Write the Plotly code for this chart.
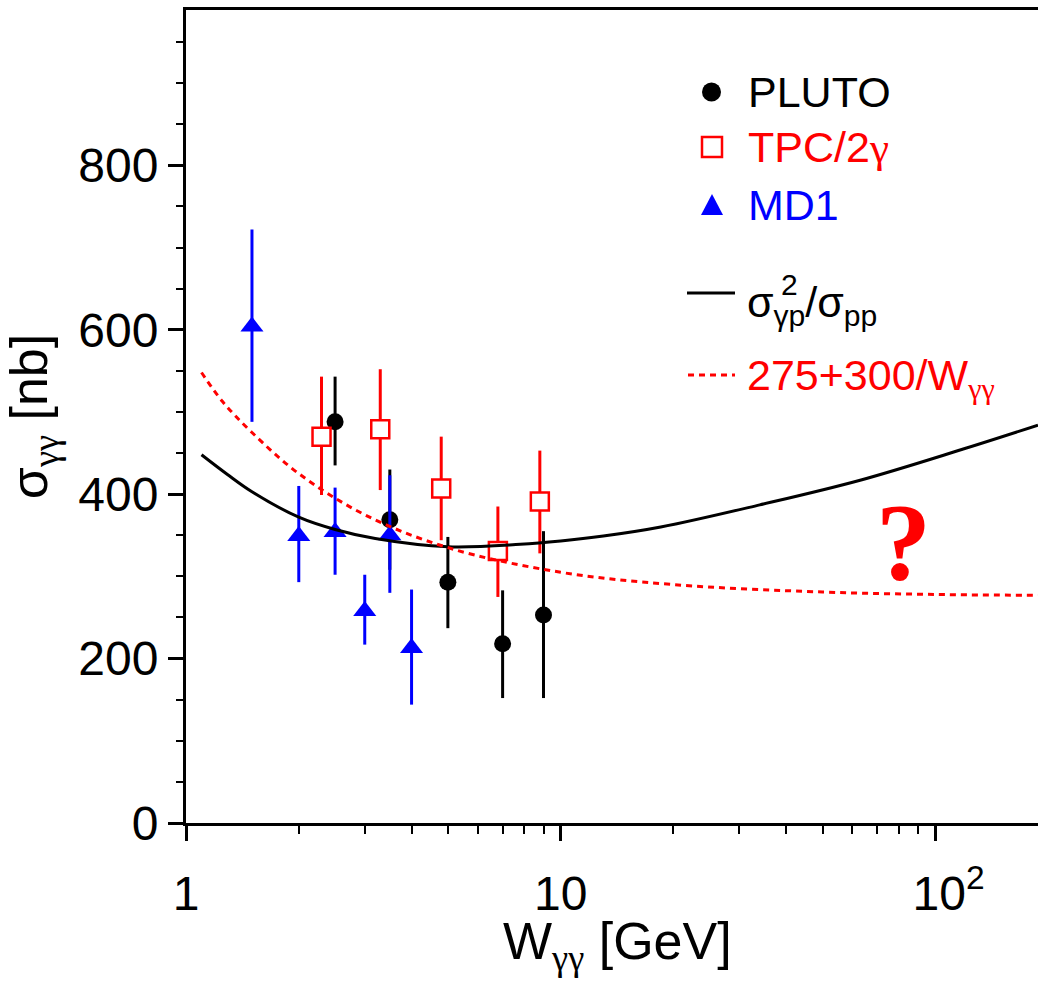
import plotly.graph_objects as go
import math

# ---------------- data ----------------
pluto_w = [2.5, 3.5, 5.0, 7.0, 9.0]
pluto_y = [488, 369, 293, 218, 253]
pluto_hi = [543, 430, 348, 283, 355]
pluto_lo = [435, 308, 237, 152, 152]

tpc_w = [2.3, 3.3, 4.8, 6.8, 8.8]
tpc_y = [470, 479, 407, 331, 391]
tpc_hi = [543, 552, 470, 385, 453]
tpc_lo = [399, 405, 344, 275, 328]

md1_w = [1.5, 2.0, 2.5, 3.0, 3.5, 4.0]
md1_y = [604, 349, 354, 258, 350, 213]
md1_hi = [722, 410, 408, 302, 423, 284]
md1_lo = [488, 293, 302, 217, 280, 144]

model_w = [1.1, 1.29, 1.5, 2.0, 2.5, 3.2, 5.0, 7.8, 10, 13, 18.5, 34, 63, 117, 188]
model_y = [448, 424, 403, 372, 357, 346, 336, 339, 343, 349, 360, 387, 417, 454, 484]

fit_w = [1.1, 1.25, 1.5, 2.0, 3.0, 5.0, 10, 20, 50, 100, 188]
fit_y = [548, 513, 475, 425, 375, 335, 305, 290, 281, 278, 277]

x_tickvals = [1, 10, 100]
x_ticktext = ["1", "10", "\u00a0\u00a010<sup>2</sup>"]
x_minor = [2, 3, 4, 5, 6, 7, 8, 9, 20, 30, 40, 50, 60, 70, 80, 90]

RED = "#ff0000"
BLUE = "#0000ff"
BLACK = "#000000"
FONT = "Liberation Sans, Arial, sans-serif"
SERIF = "Liberation Serif, Times New Roman, serif"

W, H = 1038, 986
ML, MR, MT, MB = 186, 0, 10, 163
PW, PH = W - ML - MR, H - MT - MB


def px(xp):
    return (xp - ML) / PW


def py(yp):
    return (H - MB - yp) / PH


def errs(y, hi, lo):
    return [h - v for v, h in zip(y, hi)], [v - l for v, l in zip(y, lo)]


fig = go.Figure()

p_up, p_dn = errs(pluto_y, pluto_hi, pluto_lo)
fig.add_trace(go.Scatter(
    x=pluto_w, y=pluto_y, mode="markers", name="PLUTO",
    marker=dict(symbol="circle", size=17, color=BLACK),
    error_y=dict(type="data", array=p_up, arrayminus=p_dn, thickness=3,
                 width=0, color=BLACK),
    showlegend=False))

t_up, t_dn = errs(tpc_y, tpc_hi, tpc_lo)
fig.add_trace(go.Scatter(
    x=tpc_w, y=tpc_y, mode="markers", name="TPC/2γ",
    marker=dict(symbol="square", size=18, color="white",
                line=dict(color=RED, width=2.5)),
    error_y=dict(type="data", array=t_up, arrayminus=t_dn, thickness=3,
                 width=0, color=RED),
    showlegend=False))

m_up, m_dn = errs(md1_y, md1_hi, md1_lo)
fig.add_trace(go.Scatter(
    x=md1_w, y=md1_y, mode="markers", name="MD1",
    marker=dict(symbol="triangle-up", size=20, color=BLUE),
    error_y=dict(type="data", array=m_up, arrayminus=m_dn, thickness=3,
                 width=0, color=BLUE),
    showlegend=False))

fig.add_trace(go.Scatter(
    x=model_w, y=model_y, mode="lines", name="σγp²/σpp",
    line=dict(color=BLACK, width=3, shape="spline", smoothing=1.0),
    showlegend=False))

fig.add_trace(go.Scatter(
    x=fit_w, y=fit_y, mode="lines", name="275+300/Wγγ",
    line=dict(color=RED, width=3, shape="spline", dash="6px,5px"),
    showlegend=False))

# ---------------- manual legend ----------------
shapes = []
shapes.append(dict(type="circle", xref="paper", yref="paper",
                   x0=px(702), x1=px(721), y0=py(101.5), y1=py(82.5),
                   fillcolor=BLACK, line=dict(color=BLACK, width=0)))
shapes.append(dict(type="rect", xref="paper", yref="paper",
                   x0=px(702), x1=px(722), y0=py(157), y1=py(137),
                   fillcolor="white", line=dict(color=RED, width=2.5)))
tri = "M {} {} L {} {} L {} {} Z".format(px(701), py(215), px(723), py(215),
                                         px(712), py(194))
shapes.append(dict(type="path", xref="paper", yref="paper", path=tri,
                   fillcolor=BLUE, line=dict(color=BLUE, width=0)))
shapes.append(dict(type="line", xref="paper", yref="paper",
                   x0=px(687), x1=px(735), y0=py(293), y1=py(293),
                   line=dict(color=BLACK, width=3)))
shapes.append(dict(type="line", xref="paper", yref="paper",
                   x0=px(688), x1=px(735), y0=py(375), y1=py(375),
                   line=dict(color=RED, width=3, dash="6px,5px")))

LF = 43
annotations = [
    dict(text="PLUTO", x=px(746), y=py(92), font=dict(size=LF, color=BLACK)),
    dict(text="TPC/2<span style='font-family:Liberation Serif'>γ</span>",
         x=px(746), y=py(147), font=dict(size=LF, color=RED)),
    dict(text="MD1", x=px(746), y=py(205), font=dict(size=LF, color=BLUE)),
    dict(text="σ<sub>γp</sub>/σ<sub>pp</sub>", x=px(745), y=py(305),
         font=dict(size=LF, color=BLACK)),
    dict(text="2", x=px(779), y=py(284), font=dict(size=30, color=BLACK)),
    dict(text="275+300/W<sub><span style='font-family:Liberation Serif'>γγ</span></sub>",
         x=px(745), y=py(379), font=dict(size=LF, color=RED)),
]
for a in annotations:
    a.update(xref="paper", yref="paper", xanchor="left", yanchor="middle",
             showarrow=False)
    a["font"]["family"] = FONT

annotations.append(dict(text="<b>?</b>", x=px(903), y=py(542), xref="paper",
                        yref="paper", xanchor="center", yanchor="middle",
                        showarrow=False,
                        font=dict(family=SERIF, size=110, color=RED)))

# x-axis title as an annotation for exact placement
annotations.append(dict(
    text="W<sub><span style='font-family:Liberation Serif'>γγ</span></sub> [GeV]",
    x=px(617), y=py(945), xref="paper", yref="paper",
    xanchor="center", yanchor="middle", showarrow=False,
    font=dict(family=FONT, size=52, color=BLACK)))

fig.update_layout(
    width=W, height=H,
    margin=dict(l=ML, r=MR, t=MT, b=MB, pad=0, autoexpand=False),
    paper_bgcolor="white", plot_bgcolor="white",
    font=dict(family=FONT, color=BLACK),
    shapes=shapes, annotations=annotations,
    showlegend=False,
)

fig.update_xaxes(
    type="log", range=[0, math.log10(188)],
    tickmode="array", tickvals=x_tickvals, ticktext=x_ticktext,
    ticks="outside", ticklen=15, tickwidth=2.5, tickcolor=BLACK,
    minor=dict(tickmode="array", tickvals=x_minor, ticks="outside",
               ticklen=8, tickwidth=2, tickcolor=BLACK, showgrid=False),
    showline=True, linewidth=3, linecolor=BLACK, mirror=True,
    showgrid=False, zeroline=False, automargin=False,
    tickfont=dict(size=48, family=FONT, color=BLACK),
    ticklabelstandoff=11,
)

fig.update_yaxes(
    range=[0, 989], tickmode="linear", tick0=0, dtick=200,
    ticks="outside", ticklen=15, tickwidth=2.5, tickcolor=BLACK,
    minor=dict(dtick=50, ticks="outside", ticklen=7, tickwidth=2,
               tickcolor=BLACK, showgrid=False),
    showline=True, linewidth=3, linecolor=BLACK,
    showgrid=False, zeroline=False, automargin=False,
    tickfont=dict(size=48, family=FONT, color=BLACK),
    title=dict(text="σ<sub><span style='font-family:Liberation Serif'>γγ</span></sub> [nb]",
               font=dict(size=52, family=FONT, color=BLACK), standoff=15),
)

fig.write_html("out.html",
               config={"displayModeBar": False},
               post_script="document.body.style.margin='0';"
                           "document.body.style.overflow='hidden';")
